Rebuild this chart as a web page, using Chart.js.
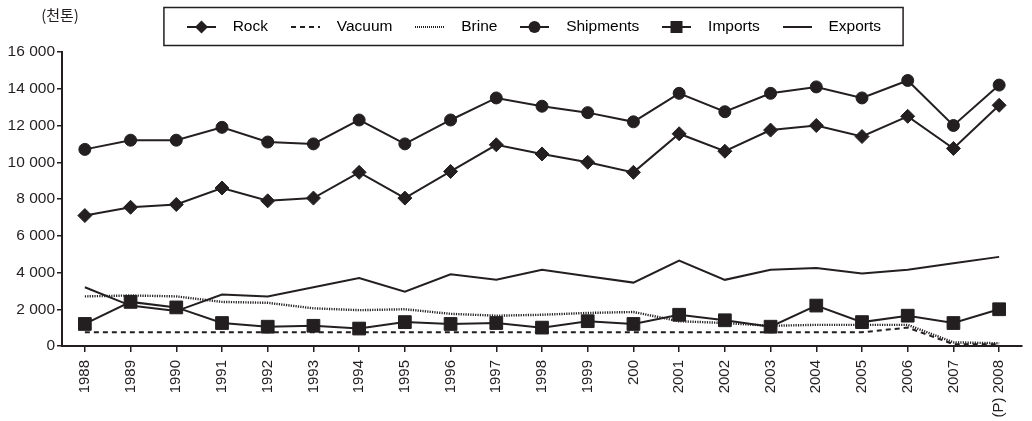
<!DOCTYPE html>
<html>
<head>
<meta charset="utf-8">
<script src="https://cdn.jsdelivr.net/npm/chart.js@4.4.1/dist/chart.umd.min.js"></script>
<style>
  html, body { margin: 0; padding: 0; background: #fff; }
</style>
</head>
<body>
<canvas id="chart" width="1032" height="421"></canvas>
<script>
const years = ['1988', '1989', '1990', '1991', '1992', '1993', '1994', '1995', '1996', '1997', '1998',
  '1999', '200', '2001', '2002', '2003', '2004', '2005', '2006', '2007', '(P) 2008'];

const rock = [7100, 7550, 7700, 8600, 7900, 8050, 9450, 8050, 9500, 10950, 10450,
  10000, 9450, 11550, 10600, 11750, 12000, 11400, 12500, 10750, 13100];
const vacuum = [750, 750, 750, 750, 750, 750, 750, 750, 750, 750, 750,
  750, 750, 750, 750, 750, 750, 750, 1000, 100, 100];
const brine = [2700, 2750, 2700, 2400, 2350, 2050, 1950, 2000, 1750, 1650, 1700,
  1800, 1850, 1350, 1250, 1100, 1150, 1150, 1150, 200, 150];
const shipments = [10700, 11200, 11200, 11900, 11100, 11000, 12300, 11000, 12300, 13500, 13050,
  12700, 12200, 13750, 12750, 13750, 14100, 13500, 14450, 12000, 14200];
const imports = [1200, 2400, 2100, 1250, 1050, 1100, 950, 1300, 1200, 1250, 1000,
  1350, 1200, 1700, 1400, 1050, 2200, 1300, 1650, 1250, 2000];
const exports = [3200, 2200, 1900, 2800, 2700, 3200, 3700, 2950, 3900, 3600, 4150,
  3800, 3450, 4650, 3600, 4150, 4250, 3950, 4150, 4500, 4850];

const yTicks = [0, 2000, 4000, 6000, 8000, 10000, 12000, 14000, 16000];
const unitLabel = '(천톤)';

const ink = '#231f20';
const family = '"Liberation Sans", Arial, Helvetica, sans-serif';

// legend symbols: short line with the marker in the middle
function legendIcon(dash, marker) {
  const c = document.createElement('canvas');
  c.width = 42;
  c.height = 18;
  const g = c.getContext('2d');
  g.strokeStyle = ink;
  g.fillStyle = ink;
  g.lineWidth = 2;
  if (dash === 'dot') {
    for (let x = 4; x < 33; x += 2) g.fillRect(x, 8, 1, 2);
  } else {
    if (dash === 'dash') g.setLineDash([5, 4]);
    g.beginPath();
    g.moveTo(4, 9);
    g.lineTo(33, 9);
    g.stroke();
    g.setLineDash([]);
  }
  const cx = 18.5, cy = 9;
  g.beginPath();
  if (marker === 'diamond') {
    g.moveTo(cx, cy - 6.5); g.lineTo(cx + 6.5, cy); g.lineTo(cx, cy + 6.5); g.lineTo(cx - 6.5, cy);
    g.closePath(); g.fill();
  } else if (marker === 'circle') {
    g.arc(cx, cy, 6, 0, Math.PI * 2); g.fill();
  } else if (marker === 'square') {
    g.rect(cx - 6, cy - 6, 12, 12); g.fill();
  }
  return c;
}

const icons = [
  legendIcon('solid', 'diamond'),
  legendIcon('dash', null),
  legendIcon('dot', null),
  legendIcon('solid', 'circle'),
  legendIcon('solid', 'square'),
  legendIcon('solid', null)
];

function spaced(v) {
  return String(v).replace(/\B(?=(\d{3})+(?!\d))/g, ' ');
}

const line = (label, data, extra) => Object.assign({
  label: label,
  data: data,
  borderColor: ink,
  backgroundColor: ink,
  borderWidth: 2,
  tension: 0,
  fill: false,
  pointRadius: 0,
  pointBackgroundColor: ink,
  pointBorderColor: ink,
  pointBorderWidth: 1,
  clip: false
}, extra);

const frame = {
  id: 'frame',
  // the legend sits a little right of the canvas centre in the original
  afterLayout(chart) {
    chart.legend.left += 32;
  },
  beforeDraw(chart) {
    // keep the dotted legend icon crisp
    chart.ctx.imageSmoothingEnabled = false;
  },
  afterDraw(chart) {
    const ctx = chart.ctx;
    const boxes = chart.legend.legendHitBoxes;
    if (boxes && boxes.length) {
      const first = boxes[0], last = boxes[boxes.length - 1];
      const left = first.left + 4 - 23;
      const right = last.left + last.width + 22;
      const top = first.top - 11.5;
      ctx.save();
      ctx.strokeStyle = ink;
      ctx.lineWidth = 1.5;
      ctx.strokeRect(left, top, right - left, 38);
      ctx.restore();
    }
    const area = chart.chartArea;
    ctx.save();
    ctx.fillStyle = ink;
    ctx.font = '15px "Noto Sans CJK KR", "Liberation Sans", sans-serif';
    ctx.textAlign = 'center';
    ctx.textBaseline = 'middle';
    ctx.fillText(unitLabel, area.left - 2, 15);
    ctx.restore();
  }
};

new Chart(document.getElementById('chart'), {
  type: 'line',
  data: {
    labels: years,
    datasets: [
      line('Rock', rock, { pointRadius: 7, pointStyle: 'rectRot' }),
      line('Vacuum', vacuum, { borderDash: [5, 4] }),
      line('Brine', brine, { borderDash: [1.2, 1.2], borderWidth: 2.4 }),
      line('Shipments', shipments, { pointRadius: 6, pointStyle: 'circle' }),
      line('Imports', imports, { pointRadius: 9, pointStyle: 'rect' }),
      line('Exports', exports, {})
    ]
  },
  options: {
    responsive: false,
    animation: false,
    layout: { padding: 0 },
    plugins: {
      legend: {
        position: 'top',
        labels: {
          usePointStyle: true,
          pointStyleWidth: 42,
          padding: 19,
          color: ink,
          font: { family: family, size: 15.5 },
          generateLabels: chart => chart.data.datasets.map((ds, i) => ({
            text: ds.label,
            pointStyle: icons[i],
            fillStyle: ink,
            strokeStyle: ink,
            lineWidth: 0,
            hidden: false,
            datasetIndex: i
          }))
        }
      },
      title: {
        display: true,
        text: '',
        weight: 500,
        padding: 0,
        font: { size: 6.25 }
      },
      tooltip: { enabled: false }
    },
    scales: {
      x: {
        type: 'category',
        offset: true,
        grid: {
          display: true,
          drawOnChartArea: false,
          drawTicks: true,
          tickLength: 6,
          offset: false,
          color: ink,
          lineWidth: 1.5
        },
        border: { display: true, color: ink, width: 2 },
        ticks: {
          autoSkip: false,
          minRotation: 90,
          maxRotation: 90,
          padding: 8,
          color: ink,
          font: { family: family, size: 15 }
        },
        afterFit: s => { s.height = 75; }
      },
      y: {
        min: 0,
        max: 16000,
        afterBuildTicks: s => { s.ticks = yTicks.map(v => ({ value: v })); },
        grid: {
          display: true,
          drawOnChartArea: false,
          drawTicks: true,
          tickLength: 5,
          color: ink,
          lineWidth: 1.5
        },
        border: { display: true, color: ink, width: 2 },
        ticks: {
          padding: 2,
          color: ink,
          font: { family: family, size: 15.5 },
          callback: v => spaced(v)
        },
        afterFit: s => { s.width = 62; }
      }
    }
  },
  plugins: [frame]
});
</script>
</body>
</html>
